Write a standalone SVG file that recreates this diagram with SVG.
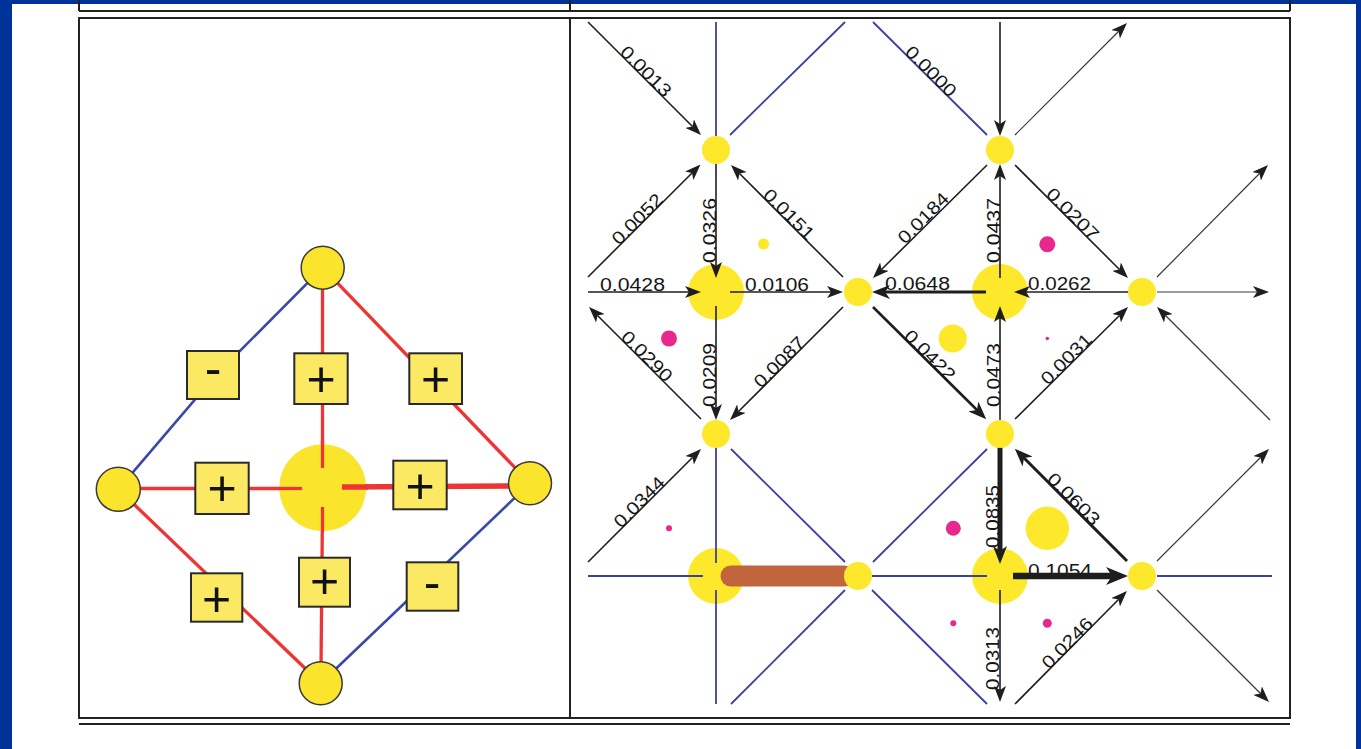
<svg xmlns="http://www.w3.org/2000/svg" width="1361" height="749" viewBox="0 0 1361 749">
<defs>
<style>
.frame{fill:none;stroke:#222;stroke-width:2}
.red{stroke:#ee3535;stroke-width:3.3;fill:none}
.blueL{stroke:#3a48a8;stroke-width:2.6;fill:none}
.lnode{fill:#fbe52c;stroke:#3a3a3a;stroke-width:1.5}
.box{fill:#fbe963;stroke:#2a2a2a;stroke-width:2}
.sign{font-family:"Liberation Sans",Arial,sans-serif;font-size:50px;fill:#111;text-anchor:middle;dominant-baseline:central}
.yel{fill:#fde82b}
.pink{fill:#e8288c}
.blk{stroke:#1e1e1e;stroke-width:1.6;fill:none;marker-end:url(#ah)}
.gry{stroke:#3a3a3a;stroke-width:1.2;fill:none;marker-end:url(#ah)}
.blu{stroke:#3a42a0;stroke-width:1.8;fill:none}
.lbl{font-family:"Liberation Sans",Arial,sans-serif;font-size:18px;fill:#161616}
</style>
<marker id="ah" viewBox="0 0 16 12" refX="4" refY="6" markerWidth="16" markerHeight="12" orient="auto" markerUnits="userSpaceOnUse">
<path d="M0,0 L16,6 L0,12 L4,6 Z" fill="#1e1e1e"/>
</marker>
<marker id="ahm" viewBox="0 0 18 14" refX="5" refY="7" markerWidth="18" markerHeight="14" orient="auto" markerUnits="userSpaceOnUse">
<path d="M0,0 L18,7 L0,14 L5,7 Z" fill="#1e1e1e"/>
</marker>
<marker id="ahb" viewBox="0 0 22 18" refX="6" refY="9" markerWidth="22" markerHeight="18" orient="auto" markerUnits="userSpaceOnUse">
<path d="M0,0 L22,9 L0,18 L6,9 Z" fill="#1e1e1e"/>
</marker>
</defs>
<rect x="0" y="0" width="1361" height="749" fill="#ffffff"/>
<rect x="0" y="0" width="12" height="749" fill="#003399"/>
<rect x="0" y="0" width="1361" height="4" fill="#003399"/>
<rect x="1356" y="0" width="5" height="749" fill="#003399"/>
<g id="table">
<line class="frame" x1="79" y1="0" x2="79" y2="11"/>
<line class="frame" x1="570" y1="0" x2="570" y2="11"/>
<line class="frame" x1="1290" y1="0" x2="1290" y2="11"/>
<line class="frame" x1="79" y1="11" x2="1290" y2="11"/>
<rect class="frame" x="79" y="18" width="1211" height="700"/>
<line class="frame" x1="570" y1="18" x2="570" y2="718"/>
<line class="frame" x1="79" y1="724" x2="1290" y2="724"/>
</g>
<g id="left-panel">
<g id="left-edges">
<polyline class="blueL" points="322.7,267.7 216,375 118.3,489.3"/>
<line class="red" x1="322.7" y1="267.7" x2="530" y2="483.3"/>
<line class="red" x1="118.3" y1="489.3" x2="320.7" y2="683.3"/>
<line class="blueL" x1="530" y1="483.3" x2="320.7" y2="683.3"/>
<line class="red" x1="322.5" y1="280" x2="322.5" y2="468"/>
<line class="red" x1="322.5" y1="507" x2="321" y2="670"/>
<line class="red" x1="125" y1="488.5" x2="302" y2="488.5"/>
<line class="red" x1="342" y1="487" x2="520" y2="486" style="stroke-width:5.5"/>
</g>
<circle id="l-center" cx="322.7" cy="487.7" r="43.5" fill="#fbe52c"/>
<line class="red" x1="322.5" y1="440" x2="322.5" y2="468"/>
<line class="red" x1="322.5" y1="507" x2="322.5" y2="532"/>
<line class="red" x1="278" y1="488.5" x2="302" y2="488.5"/>
<line class="red" x1="342" y1="487" x2="368" y2="487" style="stroke-width:5.5"/>
<g id="l-top"><circle class="lnode" cx="322.7" cy="267.7" r="21.5"/></g>
<g id="l-left"><circle class="lnode" cx="118.3" cy="489.3" r="22"/></g>
<g id="l-right"><circle class="lnode" cx="530" cy="483.3" r="21.5"/></g>
<g id="l-bottom"><circle class="lnode" cx="320.7" cy="683.3" r="21.5"/></g>
<g id="b-ul"><rect class="box" x="187" y="351" width="52" height="48"/><text class="sign" x="213" y="368">-</text></g>
<g id="b-top"><rect class="box" x="294.3" y="353.3" width="53.4" height="50.7"/><text class="sign" x="321" y="378.5">+</text></g>
<g id="b-ur"><rect class="box" x="409.3" y="353.3" width="52.7" height="50.7"/><text class="sign" x="435.5" y="378.5">+</text></g>
<g id="b-left"><rect class="box" x="195.3" y="462.7" width="53.4" height="51.3"/><text class="sign" x="222" y="488.3">+</text></g>
<g id="b-right"><rect class="box" x="393.3" y="460.7" width="53.4" height="48.6"/><text class="sign" x="420" y="485.5">+</text></g>
<g id="b-ll"><rect class="box" x="191" y="573.3" width="51.3" height="48.4"/><text class="sign" x="216.7" y="598.5">+</text></g>
<g id="b-bottom"><rect class="box" x="299" y="557.7" width="51" height="49"/><text class="sign" x="324.5" y="581">+</text></g>
<g id="b-lr"><rect class="box" x="406.7" y="562.3" width="51.6" height="48.4"/><text class="sign" x="432" y="582">-</text></g>
</g>
<g id="right-panel">
<g id="big-nodes">
<circle class="yel" cx="716" cy="292" r="28"/>
<circle class="yel" cx="1000" cy="292" r="28"/>
<circle class="yel" cx="716" cy="576" r="28"/>
<circle class="yel" cx="1000" cy="576" r="28"/>
</g>
<g id="dots">
<circle class="yel" cx="763.5" cy="244" r="5.5"/>
<circle class="pink" cx="669" cy="338.5" r="8"/>
<circle class="yel" cx="952.7" cy="338.5" r="14"/>
<circle class="pink" cx="1047.3" cy="244.3" r="8"/>
<circle class="pink" cx="1047.3" cy="338.5" r="1.8"/>
<circle class="pink" cx="669" cy="528.3" r="3"/>
<circle class="pink" cx="953.3" cy="528.3" r="7.5"/>
<circle class="yel" cx="1047.3" cy="528.3" r="21.7"/>
<circle class="pink" cx="953.3" cy="623.3" r="3"/>
<circle class="pink" cx="1047.3" cy="623.3" r="4.5"/>
</g>
<text id="lbl-1054" class="lbl" x="1028" y="577" textLength="64" lengthAdjust="spacingAndGlyphs">0.1054</text>
<g id="connectors">
<line class="blu" x1="716" y1="22" x2="716" y2="136"/>
<line class="blu" x1="730" y1="135" x2="845" y2="22"/>
<line class="blu" x1="873" y1="22" x2="987" y2="135"/>
<line class="blu" x1="716" y1="448" x2="716" y2="563"/>
<line class="blu" x1="731" y1="449" x2="845" y2="562"/>
<line class="blu" x1="987" y1="449" x2="873" y2="562"/>
<line class="blu" x1="588" y1="576" x2="703" y2="576"/>
<line class="blu" x1="872" y1="576" x2="987" y2="576"/>
<line class="blu" x1="1157" y1="576" x2="1272" y2="576"/>
<line class="blu" x1="716" y1="590" x2="716" y2="704"/>
<line class="blu" x1="731" y1="704" x2="845" y2="590"/>
<line class="blu" x1="872" y1="590" x2="987" y2="704"/>
<line x1="731" y1="576" x2="844" y2="576" stroke="#c1653d" stroke-width="21" stroke-linecap="round"/>

<line class="blk" x1="588" y1="22" x2="692.5" y2="126.5"/>
<line class="blk" x1="1000" y1="22" x2="1000" y2="124"/>
<line class="gry" x1="1015" y1="135" x2="1118.5" y2="31.5"/>
<line class="blk" x1="588" y1="277" x2="692" y2="173"/>
<line class="blk" x1="716" y1="164" x2="716" y2="266"/>
<line class="blk" x1="843" y1="277" x2="739.5" y2="173.5"/>
<line class="blk" x1="987" y1="165" x2="881.5" y2="269.5"/>
<line class="blk" x1="1000" y1="278" x2="1000" y2="176"/>
<line class="blk" x1="1015" y1="165" x2="1119.5" y2="269.5"/>
<line class="gry" x1="1157" y1="277" x2="1259.5" y2="173.5"/>
<line class="blk" x1="588" y1="292" x2="689" y2="292"/>
<line class="blk" x1="730" y1="292" x2="831" y2="292"/>
<line class="blk" x1="986" y1="292" x2="885" y2="292" style="stroke-width:3.2;marker-end:url(#ahm)"/>
<line class="blk" x1="1128" y1="292" x2="1026" y2="292"/>
<line class="gry" x1="1157" y1="292" x2="1257" y2="292"/>
<line class="blk" x1="701" y1="419" x2="597.5" y2="315.5"/>
<line class="blk" x1="716" y1="306" x2="716" y2="408"/>
<line class="blk" x1="843" y1="307" x2="738.5" y2="411.5"/>
<line class="blk" x1="873" y1="307" x2="977" y2="410" style="stroke-width:2.6;marker-end:url(#ahm)"/>
<line class="blk" x1="1000" y1="420" x2="1000" y2="318"/>
<line class="blk" x1="1015" y1="419" x2="1119.5" y2="315.5"/>
<line class="gry" x1="1270" y1="420" x2="1165.5" y2="315.5"/>
<line class="blk" x1="588" y1="562" x2="692.5" y2="457.5"/>
<line class="blk" x1="1000" y1="446" x2="1000" y2="551" style="stroke-width:5;marker-end:url(#ahm)"/>
<line class="blk" x1="1127" y1="561" x2="1024" y2="458" style="stroke-width:3;marker-end:url(#ahm)"/>
<line class="gry" x1="1157" y1="561" x2="1260.5" y2="457.5"/>
<line class="blk" x1="1013" y1="576" x2="1112" y2="576" style="stroke-width:6.5;marker-end:url(#ahb)"/>
<line class="blk" x1="1000" y1="590" x2="1000" y2="690"/>
<line class="blk" x1="1015" y1="704" x2="1118.5" y2="599.5"/>
<line class="gry" x1="1157" y1="590" x2="1260.5" y2="693.5"/>
</g>
<g id="small-nodes">
<circle class="yel" cx="716" cy="150" r="14"/>
<circle class="yel" cx="1000" cy="150" r="14"/>
<circle class="yel" cx="858" cy="292" r="14"/>
<circle class="yel" cx="1142" cy="292" r="14"/>
<circle class="yel" cx="716" cy="434" r="14"/>
<circle class="yel" cx="1000" cy="434" r="14"/>
<circle class="yel" cx="858" cy="576" r="14"/>
<circle class="yel" cx="1142" cy="576" r="14"/>
</g>
<g id="labels">
<text class="lbl" x="600" y="291" textLength="65" lengthAdjust="spacingAndGlyphs">0.0428</text>
<text class="lbl" x="745" y="291" textLength="64" lengthAdjust="spacingAndGlyphs">0.0106</text>
<text class="lbl" x="885" y="290" textLength="65" lengthAdjust="spacingAndGlyphs">0.0648</text>
<text class="lbl" x="1028" y="290" textLength="63" lengthAdjust="spacingAndGlyphs">0.0262</text>
<text class="lbl" transform="translate(716,263) rotate(-90)" textLength="65" lengthAdjust="spacingAndGlyphs">0.0326</text>
<text class="lbl" transform="translate(1000,263) rotate(-90)" textLength="65" lengthAdjust="spacingAndGlyphs">0.0437</text>
<text class="lbl" transform="translate(716,407) rotate(-90)" textLength="64" lengthAdjust="spacingAndGlyphs">0.0209</text>
<text class="lbl" transform="translate(1000,407) rotate(-90)" textLength="64" lengthAdjust="spacingAndGlyphs">0.0473</text>
<text class="lbl" transform="translate(999,548) rotate(-90)" textLength="63" lengthAdjust="spacingAndGlyphs">0.0835</text>
<text class="lbl" transform="translate(999,690) rotate(-90)" textLength="63" lengthAdjust="spacingAndGlyphs">0.0313</text>
<text class="lbl" transform="translate(619,53) rotate(45)" textLength="64" lengthAdjust="spacingAndGlyphs">0.0013</text>
<text class="lbl" transform="translate(904,53) rotate(45)" textLength="64" lengthAdjust="spacingAndGlyphs">0.0000</text>
<text class="lbl" transform="translate(762,196) rotate(45)" textLength="64" lengthAdjust="spacingAndGlyphs">0.0151</text>
<text class="lbl" transform="translate(1045,195) rotate(45)" textLength="66" lengthAdjust="spacingAndGlyphs">0.0207</text>
<text class="lbl" transform="translate(620,338) rotate(45)" textLength="64" lengthAdjust="spacingAndGlyphs">0.0290</text>
<text class="lbl" transform="translate(903,337) rotate(45)" textLength="64" lengthAdjust="spacingAndGlyphs">0.0422</text>
<text class="lbl" transform="translate(1046,480) rotate(45)" textLength="66" lengthAdjust="spacingAndGlyphs">0.0603</text>
<text class="lbl" transform="translate(619,246) rotate(-45)" textLength="64" lengthAdjust="spacingAndGlyphs">0.0052</text>
<text class="lbl" transform="translate(905,245) rotate(-45)" textLength="64" lengthAdjust="spacingAndGlyphs">0.0184</text>
<text class="lbl" transform="translate(761,389) rotate(-45)" textLength="64" lengthAdjust="spacingAndGlyphs">0.0087</text>
<text class="lbl" transform="translate(1048,386) rotate(-45)" textLength="64" lengthAdjust="spacingAndGlyphs">0.0031</text>
<text class="lbl" transform="translate(621,529) rotate(-45)" textLength="64" lengthAdjust="spacingAndGlyphs">0.0344</text>
<text class="lbl" transform="translate(1049,670) rotate(-45)" textLength="64" lengthAdjust="spacingAndGlyphs">0.0246</text>
</g>
</g>
</svg>
